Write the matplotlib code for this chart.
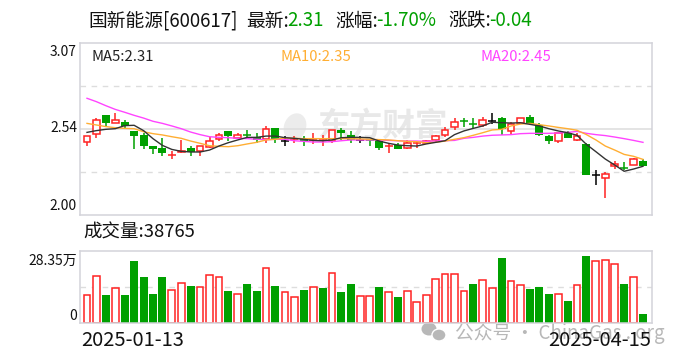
import matplotlib
matplotlib.use('Agg')
import matplotlib.pyplot as plt
from matplotlib.patches import Ellipse

plt.rcParams['font.family'] = ['Noto Sans CJK SC', 'DejaVu Sans']

# 日K数据
opens = [2.452, 2.502, 2.622, 2.574, 2.579, 2.523, 2.496, 2.429, 2.417, 2.373,
         2.390, 2.417, 2.400, 2.423, 2.471, 2.520, 2.481, 2.496, 2.487, 2.473,
         2.541, 2.460, 2.473, 2.479, 2.467, 2.467, 2.462, 2.531, 2.498, 2.464,
         2.464, 2.462, 2.429, 2.433, 2.419, 2.448, 2.450, 2.467, 2.496, 2.545,
         2.587, 2.568, 2.560, 2.587, 2.603, 2.525, 2.572, 2.610, 2.558, 2.491,
         2.462, 2.510, 2.464, 2.442, 2.249, 2.228, 2.303, 2.290, 2.309, 2.336]
closes = [2.491, 2.589, 2.574, 2.589, 2.554, 2.494, 2.431, 2.413, 2.384, 2.373,
          2.398, 2.392, 2.427, 2.458, 2.496, 2.491, 2.496, 2.496, 2.467, 2.537,
          2.473, 2.460, 2.473, 2.462, 2.467, 2.467, 2.527, 2.510, 2.464, 2.464,
          2.464, 2.417, 2.429, 2.413, 2.448, 2.448, 2.460, 2.491, 2.531, 2.577,
          2.587, 2.568, 2.589, 2.587, 2.533, 2.568, 2.606, 2.568, 2.500, 2.462,
          2.510, 2.481, 2.494, 2.251, 2.249, 2.253, 2.315, 2.290, 2.346, 2.305]
highs = [2.491, 2.601, 2.622, 2.634, 2.591, 2.523, 2.510, 2.429, 2.477, 2.398,
         2.467, 2.429, 2.427, 2.487, 2.508, 2.520, 2.508, 2.527, 2.508, 2.552,
         2.541, 2.491, 2.491, 2.491, 2.510, 2.500, 2.527, 2.541, 2.520, 2.494,
         2.464, 2.467, 2.446, 2.446, 2.467, 2.456, 2.467, 2.498, 2.545, 2.601,
         2.603, 2.603, 2.608, 2.634, 2.610, 2.579, 2.606, 2.622, 2.570, 2.498,
         2.510, 2.523, 2.508, 2.446, 2.280, 2.267, 2.336, 2.328, 2.354, 2.348]
lows = [2.431, 2.481, 2.556, 2.570, 2.539, 2.410, 2.410, 2.382, 2.369, 2.348,
        2.388, 2.369, 2.369, 2.419, 2.462, 2.458, 2.471, 2.483, 2.446, 2.446,
        2.450, 2.431, 2.446, 2.431, 2.444, 2.431, 2.450, 2.467, 2.450, 2.450,
        2.431, 2.402, 2.388, 2.410, 2.410, 2.419, 2.446, 2.446, 2.487, 2.531,
        2.545, 2.541, 2.547, 2.564, 2.498, 2.502, 2.568, 2.558, 2.494, 2.444,
        2.448, 2.481, 2.462, 2.251, 2.189, 2.108, 2.284, 2.278, 2.309, 2.305]
candle_kinds = ('RRGRGGGGGR' 'RGRRRGRGGR' 'GKRGRRRGGK'
                'GGRGRRRRRR' 'GGRKGRRGGG' 'RGRGKRRGRG')

ma5 = [2.514, 2.525, 2.533, 2.537, 2.556, 2.558, 2.525, 2.475, 2.433, 2.408,
       2.396, 2.392, 2.392, 2.404, 2.429, 2.450, 2.467, 2.483, 2.483, 2.491,
       2.491, 2.481, 2.477, 2.471, 2.464, 2.462, 2.467, 2.481, 2.483, 2.483,
       2.481, 2.460, 2.446, 2.435, 2.431, 2.429, 2.442, 2.452, 2.462, 2.500,
       2.523, 2.539, 2.554, 2.577, 2.574, 2.572, 2.574, 2.564, 2.554, 2.537,
       2.523, 2.512, 2.496, 2.439, 2.394, 2.348, 2.311, 2.272, 2.286, 2.303]
ma10 = [2.570, 2.560, 2.550, 2.543, 2.539, 2.537, 2.518, 2.506, 2.498, 2.487,
        2.477, 2.460, 2.446, 2.431, 2.427, 2.425, 2.431, 2.442, 2.452, 2.467,
        2.471, 2.479, 2.477, 2.475, 2.475, 2.475, 2.475, 2.475, 2.475, 2.473,
        2.471, 2.469, 2.467, 2.462, 2.458, 2.456, 2.450, 2.452, 2.460, 2.471,
        2.481, 2.496, 2.512, 2.529, 2.533, 2.554, 2.566, 2.570, 2.562, 2.554,
        2.545, 2.537, 2.527, 2.500, 2.467, 2.429, 2.404, 2.377, 2.365, 2.346]
ma20 = [2.726, 2.705, 2.680, 2.657, 2.639, 2.620, 2.603, 2.583, 2.570, 2.554,
        2.537, 2.516, 2.500, 2.487, 2.483, 2.481, 2.477, 2.475, 2.471, 2.469,
        2.471, 2.471, 2.462, 2.458, 2.454, 2.454, 2.456, 2.462, 2.467, 2.467,
        2.467, 2.467, 2.464, 2.462, 2.460, 2.460, 2.458, 2.460, 2.462, 2.464,
        2.477, 2.483, 2.491, 2.496, 2.498, 2.500, 2.506, 2.508, 2.508, 2.508,
        2.510, 2.514, 2.520, 2.508, 2.500, 2.494, 2.485, 2.475, 2.464, 2.452]

# 成交量 (万)
volumes = [21.8, 36.75, 22.05, 27.3, 22.05, 48.8, 36.2, 22.8, 36.2, 25.7,
           31.2, 29.1, 28.1, 37.5, 36.0, 25.2, 22.6, 30.7, 25.2, 43.05,
           29.1, 24.15, 20.2, 26.0, 28.1, 27.6, 39.1, 24.4, 30.7, 21.0,
           21.0, 28.35, 24.15, 20.5, 24.9, 16.3, 21.8, 34.4, 38.3, 38.3,
           24.9, 30.7, 33.6, 27.3, 51.2, 32.8, 29.7, 26.8, 28.35, 22.8,
           22.6, 17.3, 29.7, 52.8, 48.6, 49.4, 46.2, 30.7, 36.0, 7.1]
volume_kinds = ('RRGRGGGGGR' 'RGRRRGRGGR' 'GRRGRGRGGR' 'R'
                'GRGRRRRRRR' 'GRRGRRGGGR' 'GRGRRRGRG')

price_labels = ['3.07', '2.54', '2.00']
volume_labels = ['28.35万', '0']
date_labels = ['2025-01-13', '2025-04-15']

RED = '#ff2222'
GREEN = '#00a000'
ORANGE = '#ffae33'
PINK = '#ff44ff'
BORDER = '#d3d3da'
GRID = '#dddddd'
INK = '#111111'
W, H = 688, 360


def px_axes(fig, left, top, right, bottom):
    return fig.add_axes([left / W, 1 - bottom / H, (right - left) / W, (bottom - top) / H])


def px_text(x, y, s, **kw):
    kw.setdefault('va', 'center')
    kw.setdefault('color', INK)
    kw.setdefault('zorder', 10)
    return fig.text(x / W, 1 - y / H, s, **kw)


fig = plt.figure(figsize=(W / 100, H / 100), dpi=100)

# 水印层, 用像素坐标, 放在最底下
bg = fig.add_axes([0, 0, 1, 1], zorder=0)
bg.set_xlim(0, W)
bg.set_ylim(H, 0)
bg.axis('off')
bg.text(382, 126, '东方财富', ha='center', va='center', fontsize=23.5,
        fontweight='bold', color='#e8e8e8')
bg.add_patch(Ellipse((295, 127), 22, 28, angle=20, color='#ececec', lw=0))
bg.add_patch(Ellipse((429, 329), 15, 13, color='#b8b8b8', lw=0))
bg.add_patch(Ellipse((439, 335), 14, 12, color='#b8b8b8', ec='white', lw=1))
bg.text(455, 333, '公众号 · ChinaGas . org', va='center', fontsize=13.5, color='#b8b8b8')

ax = px_axes(fig, 80, 43, 652, 215)
ax_vol = px_axes(fig, 80, 251, 652, 323)

x_vals = list(range(len(opens)))
colors = {'R': RED, 'G': GREEN, 'K': 'black'}

for a in (ax, ax_vol):
    a.set_zorder(1)
    a.set_facecolor('none')
    a.set_xlim(-0.743, 59.955)
    a.set_xticks([])
    a.set_yticks([])
    for s in a.spines.values():
        s.set_color(BORDER)
        s.set_linewidth(1.1)
ax.set_ylim(2.00, 3.07)
ax_vol.set_ylim(0, 56.7)

# 网格
for q in (0.25, 0.75):
    ax.axhline(2.00 + 1.07 * q, color=GRID, lw=1, ls=(0, (4, 4)), zorder=0)
ax.axhline(2.535, color=GRID, lw=1.1, zorder=0)
ax_vol.axhline(28.35, color=GRID, lw=1, ls=(0, (4, 4)), zorder=0)

# K线
for i in x_vals:
    c = colors[candle_kinds[i]]
    top = max(opens[i], closes[i])
    bot = min(opens[i], closes[i])
    ax.vlines(i, lows[i], highs[i], color=c, lw=1.1, zorder=2)
    if candle_kinds[i] == 'R' and top > bot:
        ax.bar(i, top - bot, bottom=bot, width=0.72, facecolor='white', edgecolor=c, lw=1.1, zorder=3)
    elif top > bot:
        ax.bar(i, top - bot, bottom=bot, width=0.85, color=c, lw=0, zorder=3)
    else:
        ax.hlines(top, i - 0.42, i + 0.42, color=c, lw=1.1, zorder=3)

ax.plot(x_vals, ma20, color=PINK, lw=1.0, zorder=4)
ax.plot(x_vals, ma10, color=ORANGE, lw=1.0, zorder=5)
ax.plot(x_vals, ma5, color='#333333', lw=1.0, zorder=6)

# 成交量
for i in x_vals:
    if volume_kinds[i] == 'R':
        ax_vol.bar(i, volumes[i], width=0.72, facecolor='white', edgecolor=RED, lw=1.1, zorder=2)
    else:
        ax_vol.bar(i, volumes[i], width=0.85, color=GREEN, lw=0, zorder=2)

# 标题行
px_text(88, 21, '国新能源[600617]', fontsize=13.5)
px_text(246, 21, '最新:', fontsize=13.5)
px_text(287, 21, '2.31', fontsize=13.5, color=GREEN)
px_text(335, 21, '涨幅:', fontsize=13.5)
px_text(376, 21, '-1.70%', fontsize=13.5, color=GREEN)
px_text(448, 21, '涨跌:', fontsize=13.5)
px_text(489, 21, '-0.04', fontsize=13.5, color=GREEN)

px_text(91, 57, 'MA5:2.31', fontsize=10.7, color='#222222')
px_text(280, 57, 'MA10:2.35', fontsize=10.7, color=ORANGE)
px_text(481, 57, 'MA20:2.45', fontsize=10.7, color=PINK)

for y, s in zip((52, 128, 206), price_labels):
    px_text(77, y, s, fontsize=10, ha='right')
for y, s in zip((261, 316), volume_labels):
    px_text(77, y, s, fontsize=10, ha='right')

px_text(83, 233, '成交量:38765', fontsize=13.3)
px_text(81, 341, date_labels[0], fontsize=14.5)
px_text(651, 341, date_labels[1], fontsize=14.5, ha='right')

fig.savefig('out.png', dpi=100)
